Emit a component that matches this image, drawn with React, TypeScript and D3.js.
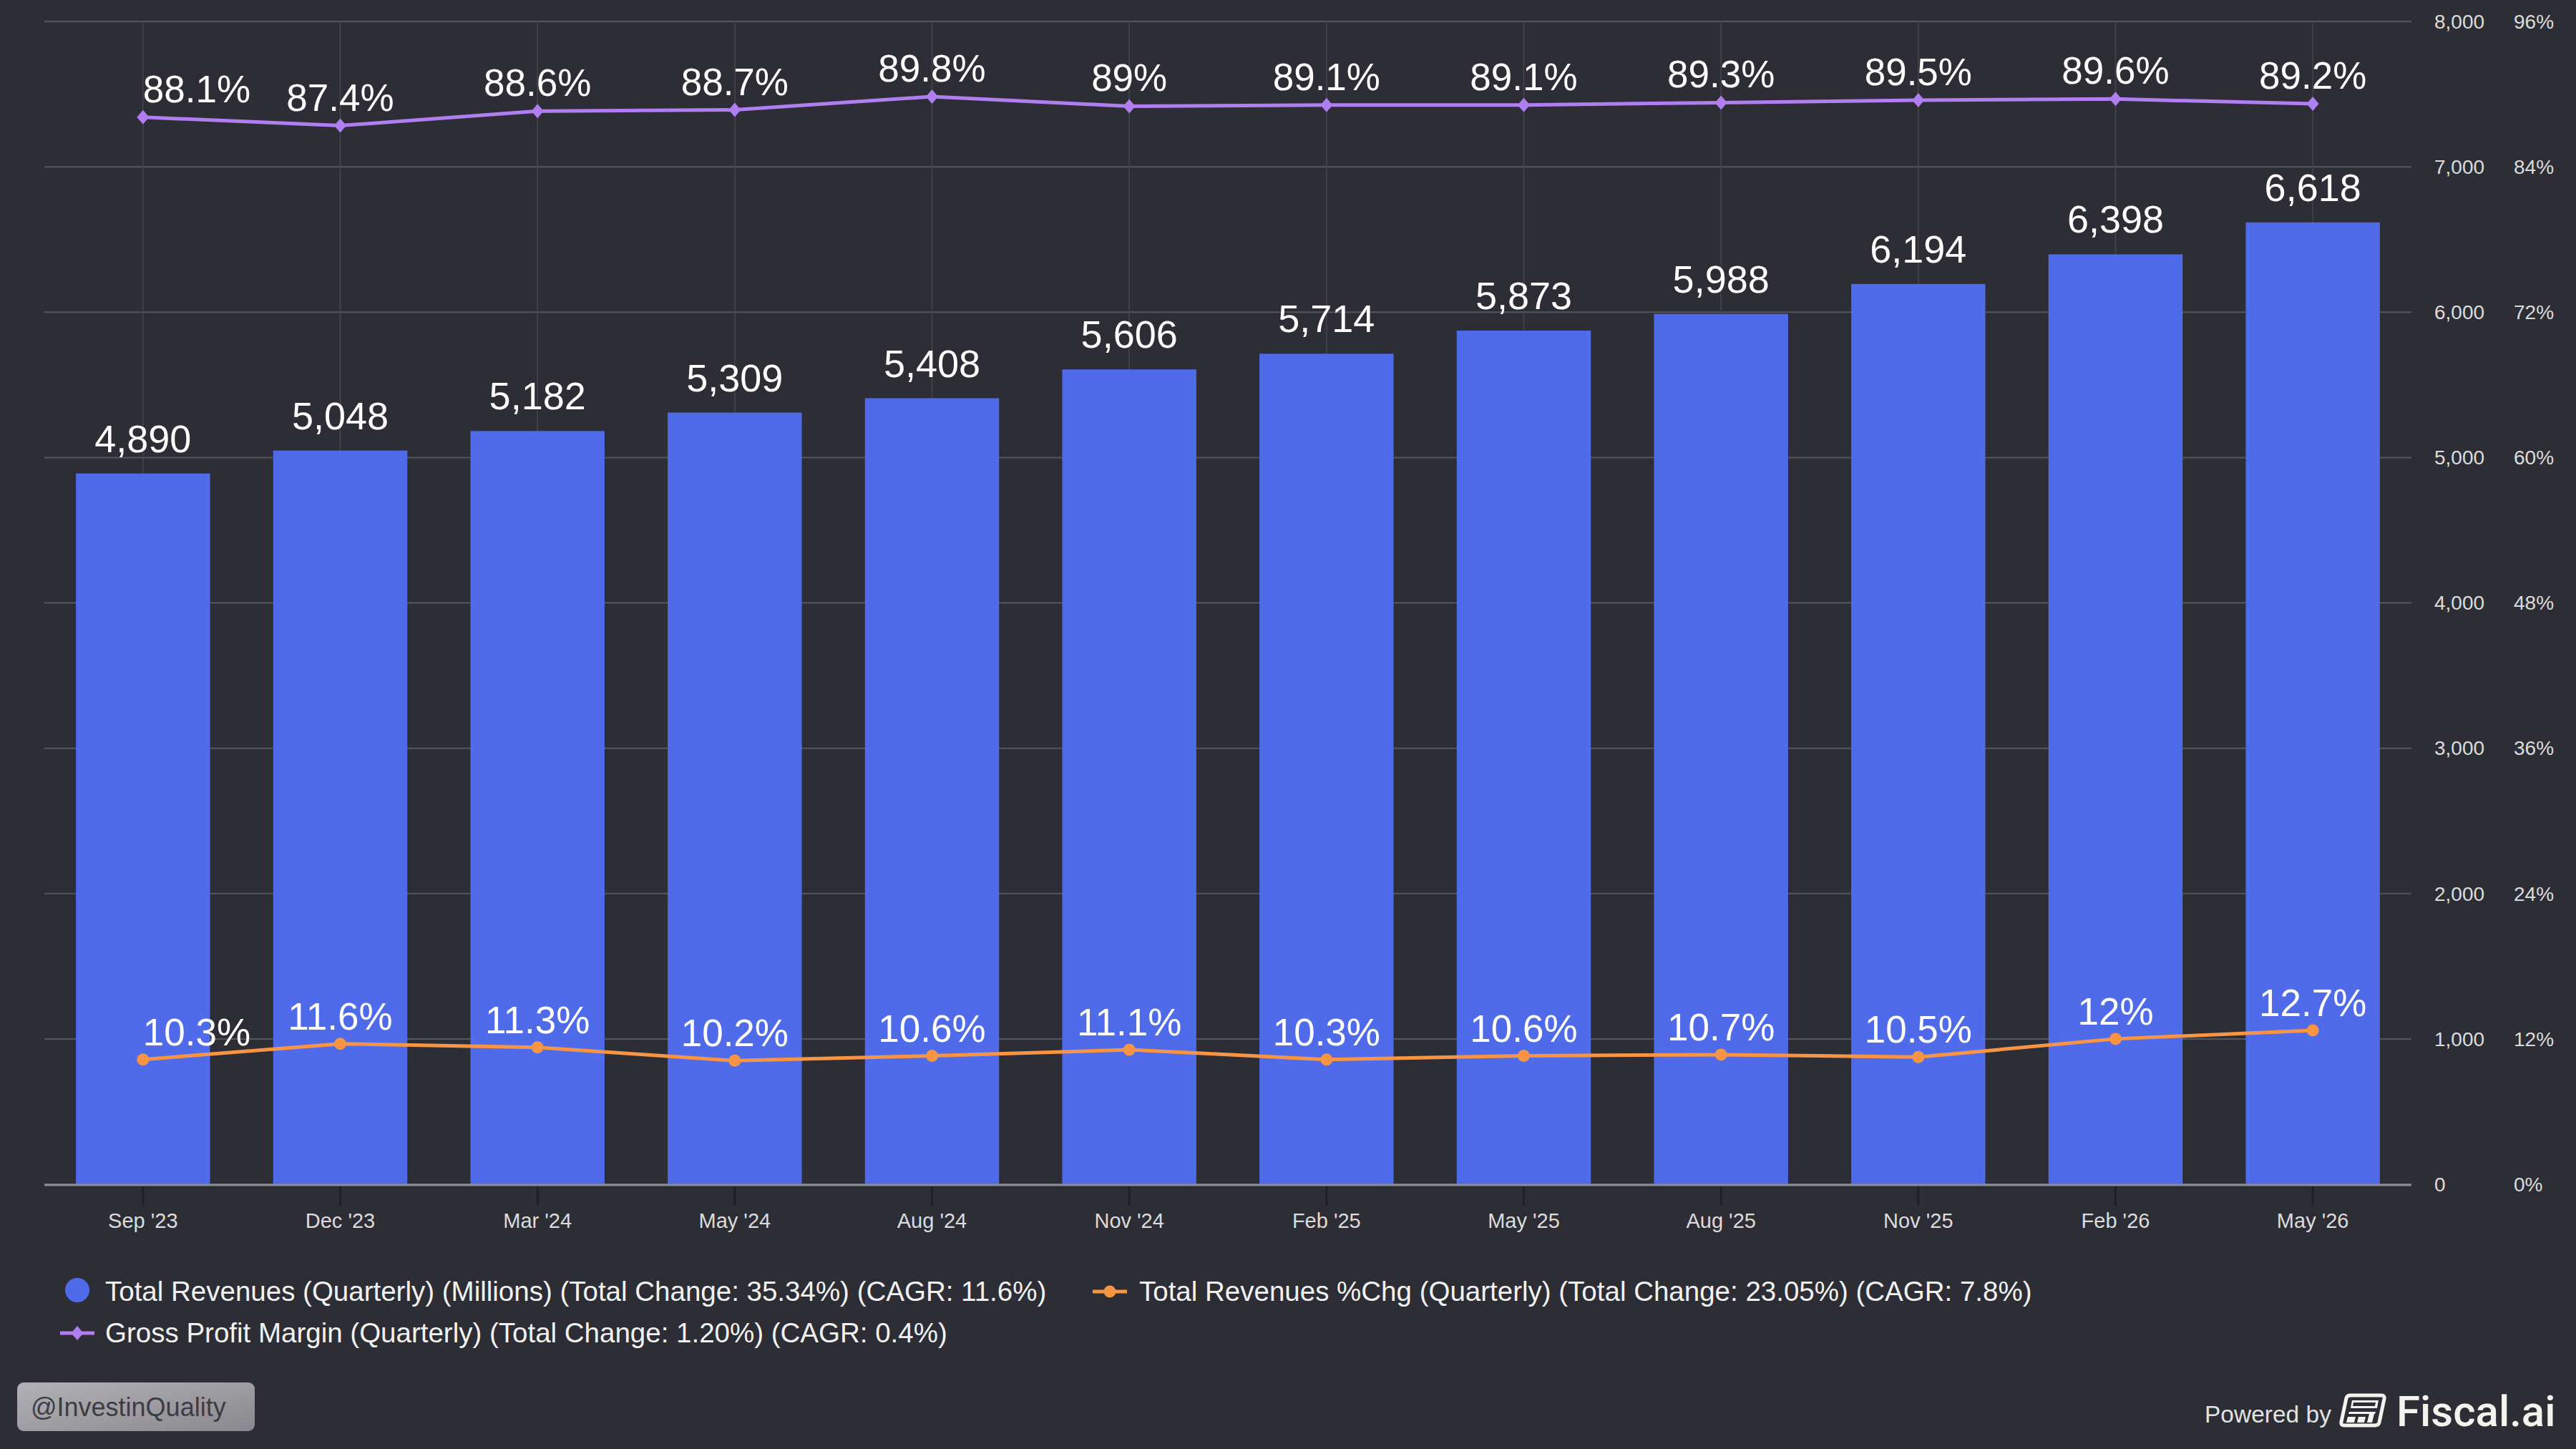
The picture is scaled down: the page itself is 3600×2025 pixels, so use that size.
import React, { useEffect } from "react";
import * as d3 from "d3";

// quarterly data
const quarters = ["Sep '23", "Dec '23", "Mar '24", "May '24", "Aug '24", "Nov '24", "Feb '25", "May '25", "Aug '25", "Nov '25", "Feb '26", "May '26"];
const revenues = [4890, 5048, 5182, 5309, 5408, 5606, 5714, 5873, 5988, 6194, 6398, 6618];
const revenueChg = [10.3, 11.6, 11.3, 10.2, 10.6, 11.1, 10.3, 10.6, 10.7, 10.5, 12, 12.7];
const grossMargin = [88.1, 87.4, 88.6, 88.7, 89.8, 89, 89.1, 89.1, 89.3, 89.5, 89.6, 89.2];
const revTicks = [0, 1000, 2000, 3000, 4000, 5000, 6000, 7000, 8000];
const pctTicks = [0, 12, 24, 36, 48, 60, 72, 84, 96];

const legendItems = [
  "Total Revenues (Quarterly) (Millions) (Total Change: 35.34%) (CAGR: 11.6%)",
  "Total Revenues %Chg (Quarterly) (Total Change: 23.05%) (CAGR: 7.8%)",
  "Gross Profit Margin (Quarterly) (Total Change: 1.20%) (CAGR: 0.4%)",
];

const W = 3600;
const H = 2025;
const BG = "#2c2d35";
const BAR = "#4f6bea";
const PURPLE = "#b07ef0";
const ORANGE = "#f79545";
const FONT = "'Liberation Sans', Arial, Helvetica, sans-serif";

const plot = { left: 62, right: 3370, top: 30, bottom: 1655 };

export default function App() {
  useEffect(() => {
    document.body.style.margin = "0";
    document.body.style.background = BG;
  }, []);

  const x = d3
    .scaleBand<string>()
    .domain(quarters)
    .range([plot.left, plot.right])
    .paddingInner(0.32)
    .paddingOuter(0.16);
  const cx = (q: string) => x(q)! + x.bandwidth() / 2;

  const yRev = d3.scaleLinear().domain([0, 8000]).range([plot.bottom, plot.top]);
  const yPct = d3.scaleLinear().domain([0, 96]).range([plot.bottom, plot.top]);

  const fmt = d3.format(",");
  const pct = (v: number) => `${v}%`;

  const line = (vals: number[]) =>
    d3
      .line<number>()
      .x((_, i) => cx(quarters[i]))
      .y((v) => yPct(v))(vals) as string;

  const diamond = (px: number, py: number, r: number) =>
    `M${px},${py - r}L${px + r * 0.85},${py}L${px},${py + r}L${px - r * 0.85},${py}Z`;

  return (
    <svg width={W} height={H} style={{ display: "block", background: BG }} fontFamily={FONT}>
      <rect width={W} height={H} fill={BG} />

      {/* horizontal grid */}
      {revTicks.map((t) => (
        <line key={t} x1={plot.left} x2={plot.right} y1={yRev(t)} y2={yRev(t)} stroke="#55565e" strokeWidth={2} />
      ))}
      {/* vertical grid */}
      {quarters.map((q) => (
        <line key={q} x1={cx(q)} x2={cx(q)} y1={plot.top} y2={plot.bottom} stroke="#44454d" strokeWidth={1.5} />
      ))}

      {/* bars */}
      {revenues.map((v, i) => (
        <rect
          key={quarters[i]}
          x={x(quarters[i])}
          y={yRev(v)}
          width={x.bandwidth()}
          height={yRev(0) - yRev(v)}
          fill={BAR}
        />
      ))}

      {/* x axis */}
      <line x1={plot.left} x2={plot.right} y1={plot.bottom + 1} y2={plot.bottom + 1} stroke="#8d8d94" strokeWidth={3} />
      {quarters.map((q) => (
        <g key={q}>
          <line x1={cx(q)} x2={cx(q)} y1={plot.bottom + 3} y2={plot.bottom + 30} stroke="#1f2026" strokeWidth={3} />
          <text x={cx(q)} y={1716} textAnchor="middle" fontSize={29} fill="#dcdcdc">
            {q}
          </text>
        </g>
      ))}

      {/* right axes */}
      {revTicks.map((t) => (
        <text key={t} x={3402} y={yRev(t)} dy="0.35em" fontSize={28} fill="#dcdcdc">
          {fmt(t)}
        </text>
      ))}
      {pctTicks.map((t) => (
        <text key={t} x={3513} y={yPct(t)} dy="0.35em" fontSize={28} fill="#dcdcdc">
          {pct(t)}
        </text>
      ))}

      {/* revenue %chg line */}
      <path d={line(revenueChg)} fill="none" stroke={ORANGE} strokeWidth={5} strokeLinejoin="round" />
      {revenueChg.map((v, i) => (
        <circle key={i} cx={cx(quarters[i])} cy={yPct(v)} r={8.5} fill={ORANGE} />
      ))}

      {/* gross margin line */}
      <path d={line(grossMargin)} fill="none" stroke={PURPLE} strokeWidth={5} strokeLinejoin="round" />
      {grossMargin.map((v, i) => (
        <path key={i} d={diamond(cx(quarters[i]), yPct(v), 10)} fill={PURPLE} />
      ))}

      {/* bar labels */}
      {revenues.map((v, i) => (
        <text key={i} x={cx(quarters[i])} y={yRev(v) - 30} textAnchor="middle" fontSize={54} fill="#ffffff">
          {fmt(v)}
        </text>
      ))}
      {/* line labels */}
      {revenueChg.map((v, i) => (
        <text
          key={i}
          x={cx(quarters[i])}
          y={yPct(v) - 20}
          textAnchor={i === 0 ? "start" : "middle"}
          fontSize={53}
          fill="#ffffff"
        >
          {pct(v)}
        </text>
      ))}
      {grossMargin.map((v, i) => (
        <text
          key={i}
          x={cx(quarters[i])}
          y={yPct(v) - 21}
          textAnchor={i === 0 ? "start" : "middle"}
          fontSize={53}
          fill="#ffffff"
        >
          {pct(v)}
        </text>
      ))}

      {/* legend */}
      <g fontSize={38.5} fill="#f2f2f2">
        <circle cx={108} cy={1803} r={17} fill={BAR} />
        <text x={147} y={1805} dy="0.35em">{legendItems[0]}</text>

        <line x1={1527} x2={1575} y1={1805} y2={1805} stroke={ORANGE} strokeWidth={5} />
        <circle cx={1551} cy={1805} r={8.5} fill={ORANGE} />
        <text x={1592} y={1805} dy="0.35em">{legendItems[1]}</text>

        <line x1={84} x2={132} y1={1863} y2={1863} stroke={PURPLE} strokeWidth={5} />
        <path d={diamond(108, 1863, 10)} fill={PURPLE} />
        <text x={147} y={1863} dy="0.35em">{legendItems[2]}</text>
      </g>

      {/* watermark */}
      <defs>
        <linearGradient id="wm" x1="0" y1="0" x2="1" y2="1">
          <stop offset="0" stopColor="#b2b2b6" />
          <stop offset="1" stopColor="#88888e" />
        </linearGradient>
      </defs>
      <rect x={24} y={1932} width={332} height={68} rx={9} fill="url(#wm)" />
      <text x={43} y={1966} dy="0.35em" fontSize={36} fill="#3c3c44">
        @InvestinQuality
      </text>

      {/* footer brand */}
      <text x={3081} y={1988} fontSize={33.5} fill="#e2e2e2">
        Powered by
      </text>
      <g fill="none" stroke="#f5f3ee" strokeWidth={5} strokeLinejoin="round">
        <path d="M3285,1950 L3328,1950 Q3333,1950 3332,1955 L3325,1988 Q3324,1992 3319,1992 L3276,1992 Q3271,1992 3272,1987 L3279,1954 Q3280,1950 3285,1950 Z" />
      </g>
      <g fill="#f5f3ee">
        <path d="M3287,1957 L3324,1957 L3322,1968 L3285,1968 Z" />
        <path d="M3283,1973 L3320,1973 L3319,1976 L3282,1976 Z" />
        <path d="M3281,1980 L3292,1980 L3290,1988 L3279,1988 Z" />
        <path d="M3296,1980 L3306,1980 L3304,1988 L3294,1988 Z" />
        <path d="M3311,1976 L3318,1976 L3315,1988 L3308,1988 Z" />
      </g>
      <path d="M3289,1960 L3320,1960 L3319,1965 L3288,1965 Z" fill={BG} />
      <text x={3349} y={1993} fontSize={60} fontWeight={500} fontFamily="Roboto, sans-serif" fill="#f5f3ee">
        Fiscal.ai
      </text>
    </svg>
  );
}
